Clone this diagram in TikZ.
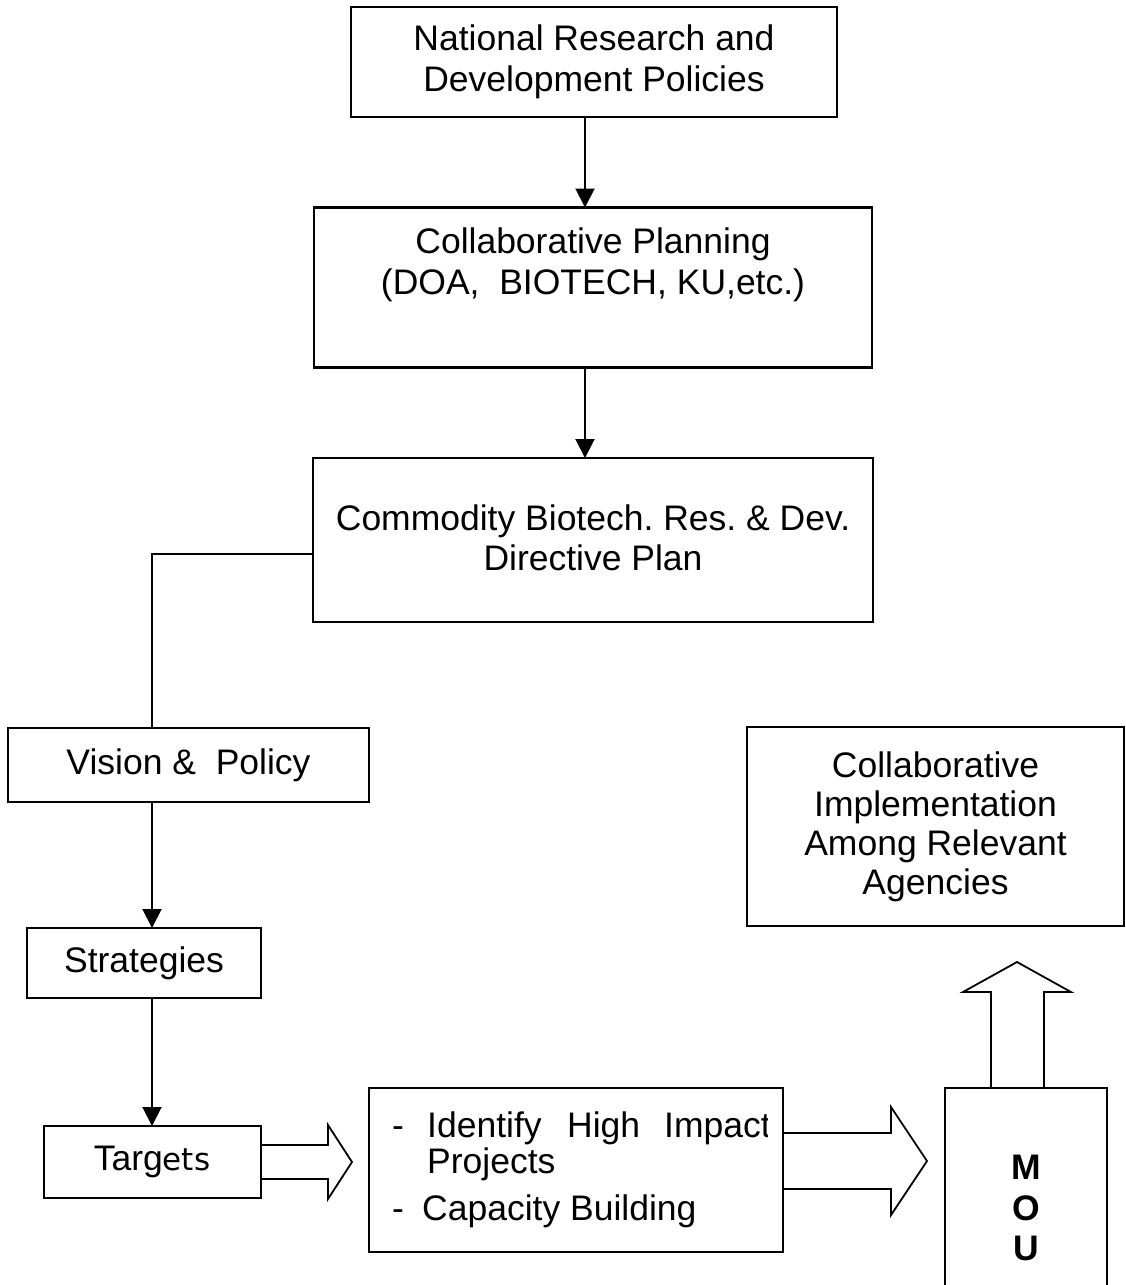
\documentclass[tikz,border=0pt]{standalone}
\usepackage{fontspec}
\setmainfont{Liberation Sans}
\newfontfamily\etsfont{DejaVu Sans}
\usetikzlibrary{arrows.meta}
\newcommand\dfont{\fontsize{35.5}{40.5}\selectfont}
\frenchspacing
\begin{document}
\begin{tikzpicture}[x=1pt,y=-1pt,
  box/.style={draw, line width=2.2pt, rectangle, inner sep=0pt, outer sep=0pt},
  txt/.style={font=\dfont, align=center, inner sep=0pt},
  conn/.style={line width=2pt, -{Triangle[length=19pt,width=19pt]}},
  plainline/.style={line width=1.5pt},
  blockarrow/.style={draw, line width=1.8pt, line join=miter, miter limit=10}]
\useasboundingbox (0,0) rectangle (1125,1285);
% boxes
\node[box, minimum width=486pt, minimum height=110pt] (nat) at (594,62) {};
\node[txt] (natT) at (nat.center) {National Research and\\Development Policies};
\node[box, minimum width=558pt, minimum height=160pt] (plan) at (593,287.5) {};
\node[txt] (planT) at (593,265) {Collaborative Planning\\(DOA,\ \ BIOTECH, KU,etc.)};
\node[box, minimum width=560pt, minimum height=164pt] (dir) at (593,540) {};
\node[txt] (dirT) at (593,538) {Commodity Biotech. Res. \& Dev.\\Directive Plan};
\node[box, minimum width=361pt, minimum height=74pt] (vis) at (188.5,765) {};
\node[txt] (visT) at (vis.center) {Vision \&\ \ Policy};
\node[box, minimum width=234pt, minimum height=70pt] (strat) at (144,963) {};
\node[txt] (stratT) at (strat.center) {Strategies};
\node[box, minimum width=217pt, minimum height=72pt] (tgt) at (152.5,1162) {};
\node[txt] (tgtT) at (152,1162) {Targ{\etsfont\fontsize{31}{36}\selectfont ets}};
\node[box, minimum width=414pt, minimum height=164pt] (idf) at (576,1170) {};
\node[box, minimum width=162pt, minimum height=232pt] (mou) at (1026,1204) {};
\node[txt, font=\dfont\bfseries] (mouT) at (1026,1208) {M\\O\\U};
\node[box, minimum width=377pt, minimum height=199pt] (impl) at (935.5,826.5) {};
\node[txt, font=\fontsize{35.5}{39}\selectfont] (implT) at (impl.center) {Collaborative\\Implementation\\Among Relevant\\Agencies};
% text of the projects box
\node[txt, anchor=base west] (d1) at (392,1137) {-};
\node[txt, anchor=base west] (w1) at (427,1137) {Identify};
\node[txt, anchor=base west] (w2) at (567,1137) {High};
\begin{scope}
\clip (600,1080) rectangle (767,1160);
\node[txt, anchor=base west] (w3) at (664,1137) {Impact};
\end{scope}
\node[txt, anchor=base west] (w4) at (427,1173) {Projects};
\node[txt, anchor=base west] (d2) at (392,1220) {-};
\node[txt, anchor=base west] (w5) at (422,1220) {Capacity Building};
% connectors
\coordinate (ax) at (585,0);
\draw[conn] (nat.south -| ax) -- (plan.north -| ax);
\draw[conn] (plan.south -| ax) -- (dir.north -| ax);
\coordinate (lk) at (152,554);
\draw[plainline] (dir.west |- lk) -- (lk) -- (vis.north -| lk);
\draw[conn] (vis.south -| lk) -- (strat.north -| lk);
\draw[conn] (strat.south -| lk) -- (tgt.north -| lk);
% block arrows
\draw[blockarrow] (tgt.east |- 0,1145) -- (328,1145) -- (328,1125) -- (352,1162) -- (328,1199) -- (328,1179) -- (tgt.east |- 0,1179);
\draw[blockarrow] (idf.east |- 0,1133) -- (891,1133) -- (891,1107) -- (927,1161) -- (891,1215) -- (891,1189) -- (idf.east |- 0,1189);
\draw[blockarrow] (mou.north -| 991,0) -- (991,992) -- (963,992) -- (1017,962) -- (1071,992) -- (1044,992) -- (mou.north -| 1044,0);
\end{tikzpicture}
\end{document}
